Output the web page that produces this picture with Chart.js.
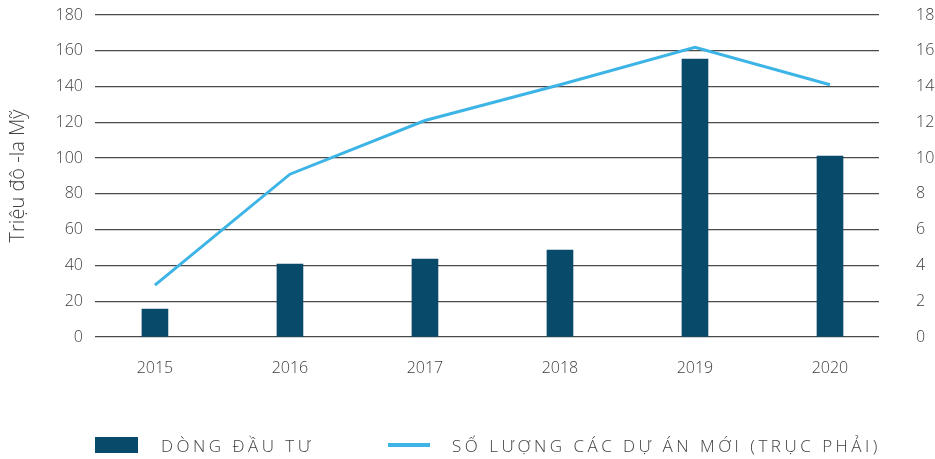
<!DOCTYPE html>
<html>
<head>
<meta charset="utf-8">
<script src="https://cdn.jsdelivr.net/npm/chart.js@4/dist/chart.umd.min.js"></script>
<style>
  html, body { margin: 0; padding: 0; background: #fff; }
  #wrap { position: relative; width: 935px; height: 459px; }
  #legend { position: absolute; left: 0; top: 0; width: 935px; height: 459px; pointer-events: none;
            font-family: "Open Sans", sans-serif; font-weight: 300; color: #404040; }
  .lg-item { position: absolute; display: flex; align-items: center; white-space: nowrap;
             font-size: 17px; letter-spacing: 3.5px; }
  .lg-mark { flex: none; }
</style>
</head>
<body>
<div id="wrap">
  <canvas id="chart"></canvas>
  <div id="legend"></div>
</div>
<script>
// --- data
const categories = ['2015', '2016', '2017', '2018', '2019', '2020'];
const investmentFlow = [15.6, 40.8, 43.6, 48.6, 155.4, 101.2];   // left axis, triệu USD
const newProjects = [2.9, 9.1, 12.1, 14.1, 16.2, 14.1];          // right axis
const leftTicks = { min: 0, max: 180, step: 20 };
const rightTicks = { min: 0, max: 18, step: 2 };
const seriesNames = ['DÒNG ĐẦU TƯ', 'SỐ LƯỢNG CÁC DỰ ÁN MỚI (TRỤC PHẢI)'];

const textColor = '#404040';
const fontFamily = '"Open Sans", sans-serif';

const ctx = document.getElementById('chart').getContext('2d');
const chart = new Chart(ctx, {
  data: {
    datasets: [
      {
        type: 'line',
        label: seriesNames[1],
        data: categories.map((c, i) => ({ x: i, y: newProjects[i] })),
        yAxisID: 'y1',
        borderColor: '#3db4e6',
        borderWidth: 3,
        pointRadius: 0,
        tension: 0,
        order: 0
      },
      {
        type: 'bar',
        label: seriesNames[0],
        data: categories.map((c, i) => ({ x: i, y: investmentFlow[i] })),
        yAxisID: 'y',
        backgroundColor: '#084a6a',
        barThickness: 26,
        order: 1
      }
    ]
  },
  options: {
    responsive: true,
    maintainAspectRatio: false,
    animation: false,
    layout: { padding: { top: 15, left: 0, right: 0, bottom: 0 } },
    plugins: {
      legend: { display: false },
      tooltip: { enabled: false }
    },
    scales: {
      x: {
        type: 'linear',
        offset: false,
        min: -0.444,
        max: 5.363,
        grid: { display: false },
        border: { display: false },
        afterBuildTicks: s => { s.ticks = categories.map((c, i) => ({ value: i })); },
        afterFit: s => { s.height = 122; },
        ticks: {
          padding: 14,
          color: textColor,
          font: { family: fontFamily, size: 16, weight: 300 },
          callback: v => categories[v]
        }
      },
      y: {
        position: 'left',
        min: leftTicks.min,
        max: leftTicks.max,
        afterFit: s => { s.width = 95; },
        // invisible tick marks give the gap between labels and grid
        grid: { color: '#4a4a4a', lineWidth: 1.3, tickLength: 12, tickColor: 'rgba(0,0,0,0)' },
        border: { display: false },
        title: {
          display: true,
          text: 'Triệu đô -la Mỹ',
          color: textColor,
          padding: { top: 6, bottom: 4 },
          font: { family: fontFamily, size: 20, weight: 300 }
        },
        ticks: {
          stepSize: leftTicks.step,
          padding: 0,
          color: textColor,
          font: { family: fontFamily, size: 16, weight: 300 }
        }
      },
      y1: {
        position: 'right',
        min: rightTicks.min,
        max: rightTicks.max,
        afterFit: s => { s.width = 56; },
        grid: { drawOnChartArea: false, tickLength: 37, tickColor: 'rgba(0,0,0,0)' },
        border: { display: false },
        ticks: {
          stepSize: rightTicks.step,
          padding: 0,
          color: textColor,
          font: { family: fontFamily, size: 16, weight: 300 }
        }
      }
    }
  }
});

// --- html legend built from the datasets
const legendEl = document.getElementById('legend');
const legendPlaces = [
  { left: 95, top: 436, gap: 23, mark: { w: 43, h: 16 } },
  { left: 388, top: 436, gap: 22, mark: { w: 42, h: 4 } }
];
[1, 0].forEach((dsIndex, k) => {
  const ds = chart.data.datasets[dsIndex];
  const p = legendPlaces[k];
  const item = document.createElement('div');
  item.className = 'lg-item';
  item.style.left = p.left + 'px';
  item.style.top = p.top + 'px';
  item.style.height = '18px';
  const mark = document.createElement('span');
  mark.className = 'lg-mark';
  mark.style.width = p.mark.w + 'px';
  mark.style.height = p.mark.h + 'px';
  mark.style.marginRight = p.gap + 'px';
  mark.style.background = ds.type === 'bar' ? ds.backgroundColor : ds.borderColor;
  const txt = document.createElement('span');
  txt.textContent = ds.label;
  item.appendChild(mark);
  item.appendChild(txt);
  legendEl.appendChild(item);
});
</script>
</body>
</html>
